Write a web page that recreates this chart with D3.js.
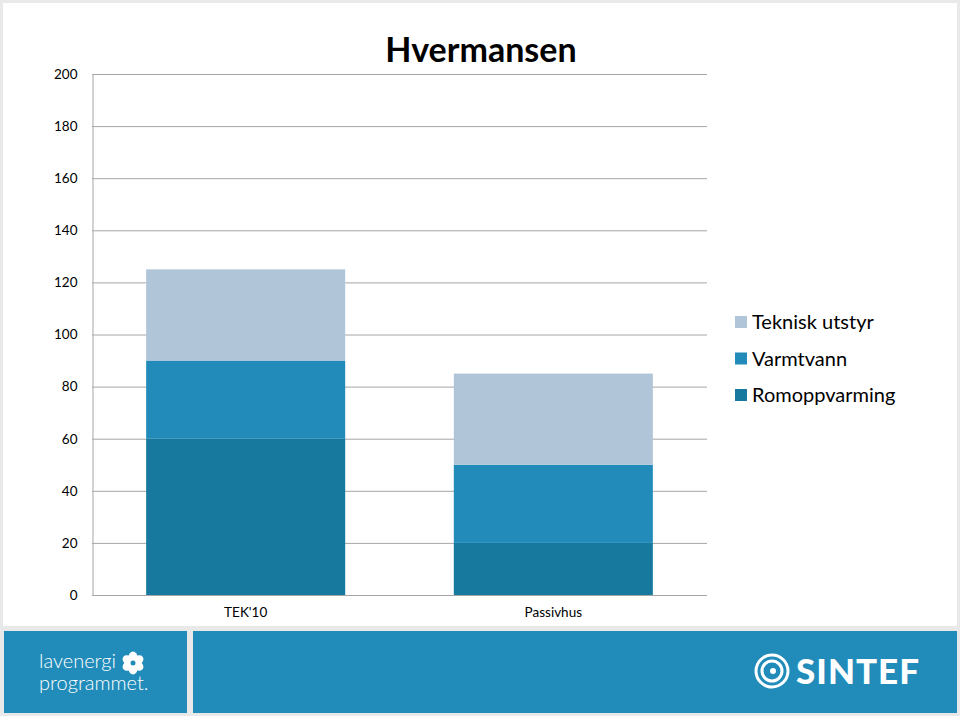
<!DOCTYPE html>
<html><head><meta charset="utf-8">
<script src="https://cdn.jsdelivr.net/npm/d3@7"></script>
<style>html,body{margin:0;padding:0;background:#e9e9e9;}svg{display:block;}</style>
</head><body>
<svg id="c" width="960" height="716"></svg>
<script>
const categories = ["TEK'10", "Passivhus"];
const seriesNames = ["Romoppvarming", "Varmtvann", "Teknisk utstyr"];
const romoppvarming = [60, 20];
const varmtvann = [30, 30];
const tekniskUtstyr = [35, 35];
const yTicks = [0, 20, 40, 60, 80, 100, 120, 140, 160, 180, 200];
const colors = ["#18799e", "#228bba", "#b0c6d8"];

const font = "Lato, 'Open Sans', sans-serif";
const svg = d3.select("#c");
svg.append("rect").attr("x",0).attr("y",0).attr("width",960).attr("height",716).attr("fill","#e9e9e9");
svg.append("rect").attr("x",3).attr("y",3).attr("width",954).attr("height",623).attr("fill","#ffffff");

const x = d3.scaleBand().domain(categories).range([92, 707]).paddingInner(0.353).paddingOuter(0.176);
const y = d3.scaleLinear().domain([0, 200]).range([595, 74]);

// gridlines
svg.append("g").selectAll("line").data(yTicks.filter(d=>d>0)).join("line")
  .attr("x1", 92).attr("x2", 707).attr("y1", d=>y(d)+0.5).attr("y2", d=>y(d)+0.5)
  .attr("stroke", "#a6a6a6").attr("stroke-width", 1);

const table = categories.map((c,i)=>({cat:c, Romoppvarming:romoppvarming[i], Varmtvann:varmtvann[i], "Teknisk utstyr":tekniskUtstyr[i]}));
const stack = d3.stack().keys(seriesNames)(table);
svg.append("g").selectAll("g").data(stack).join("g").attr("fill",(d,i)=>colors[i])
  .selectAll("rect").data(d=>d).join("rect")
  .attr("x", d=>x(d.data.cat)).attr("width", x.bandwidth())
  .attr("y", d=>y(d[1])).attr("height", d=>y(d[0])-y(d[1]));

// axes
const yAxis = d3.axisLeft(y).tickValues(yTicks).tickSize(0).tickPadding(15);
const gy = svg.append("g").attr("transform","translate(92.5,0)").call(yAxis);
gy.select(".domain").attr("stroke","#a6a6a6");
gy.selectAll("text").attr("font-family", font).attr("font-size", 13.5).attr("fill","#000");

svg.append("line").attr("x1",92).attr("x2",707).attr("y1",595.5).attr("y2",595.5).attr("stroke","#a6a6a6");
const xAxis = d3.axisBottom(x).tickSize(0).tickPadding(12);
const gx = svg.append("g").attr("transform","translate(0,595)").call(xAxis);
gx.select(".domain").remove();
gx.selectAll("text").attr("font-family", font).attr("font-size", 13.5).attr("fill","#000");

// title
svg.append("text").attr("x", 481).attr("y", 62).attr("text-anchor","middle")
  .attr("font-family", font).attr("font-weight","bold").attr("font-size", 34).attr("fill","#000")
  .text("Hvermansen");

// legend
const legendOrder = [2,1,0];
const lg = svg.append("g");
legendOrder.forEach((si, k)=>{
  const yy = 322 + k*36.5;
  lg.append("rect").attr("x",735).attr("y",yy-6).attr("width",12).attr("height",12).attr("fill",colors[si]);
  lg.append("text").attr("x",752).attr("y",yy+7).attr("font-family",font).attr("font-size",20).attr("fill","#000").text(seriesNames[si]);
});

// footer
svg.append("rect").attr("x",4).attr("y",631).attr("width",183).attr("height",82).attr("fill","#218cba");
svg.append("rect").attr("x",193).attr("y",631).attr("width",764).attr("height",82).attr("fill","#218cba");
svg.append("text").attr("x",39).attr("y",668).attr("font-family",font).attr("font-weight","300").attr("font-size",20).attr("fill","#fff").text("lavenergi");
svg.append("text").attr("x",39).attr("y",690).attr("font-family",font).attr("font-weight","300").attr("font-size",20).attr("fill","#fff").text("programmet.");
// flower icon
const fl = svg.append("g").attr("transform","translate(133,663)");
d3.range(6).forEach(i=>{
  fl.append("ellipse").attr("cx",0).attr("cy",-5.5).attr("rx",4.5).attr("ry",6).attr("fill","#fff")
    .attr("transform",`rotate(${i*60})`);
});
fl.append("circle").attr("r",2.5).attr("fill","#218cba");
// SINTEF logo
const sl = svg.append("g").attr("transform","translate(772,671)");
sl.append("circle").attr("r",16).attr("fill","none").attr("stroke","#fff").attr("stroke-width",3);
sl.append("circle").attr("r",10).attr("fill","none").attr("stroke","#fff").attr("stroke-width",3);
sl.append("circle").attr("r",3).attr("cx",1).attr("cy",0).attr("fill","#fff");
svg.append("text").attr("x",796).attr("y",684).attr("font-family",font).attr("font-weight","900").attr("font-size",35).attr("letter-spacing",1).attr("fill","#fff").text("SINTEF");
</script>
</body></html>
